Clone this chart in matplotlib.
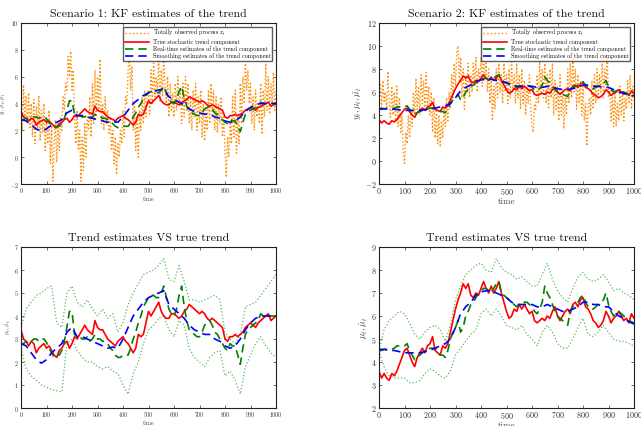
import numpy as np
import matplotlib
matplotlib.use("Agg")
import matplotlib.pyplot as plt

plt.rcParams['font.family'] = ['cmr10', 'DejaVu Serif']
plt.rcParams['mathtext.fontset'] = 'cm'
plt.rcParams['axes.unicode_minus'] = False
plt.rcParams['axes.formatter.use_mathtext'] = True

# ---------------- data ----------------
time5 = np.arange(0, 1001, 5)
time10 = np.arange(0, 1001, 10)
time20 = np.arange(0, 1001, 20)

# Scenario 1
obs1 = [3.5, 2.0, 5.4, 3.0, 4.6, 2.6, 4.8, 2.2, 4.0, 1.5,
        4.3, 1.0, 3.8, 2.0, 4.6, 1.2, 3.5, 1.8, 4.0, 0.5,
        3.0, 1.0, 3.5, -0.5, 2.5, -1.8, 1.0, 2.8, -0.4, 2.5,
        0.5, 3.0, 2.0, 4.5, 3.5, 5.5, 5.0, 7.5, 6.0, 7.9,
        5.0, 6.5, 3.0, 1.0, 3.5, 0.5, 2.0, -1.8, 1.5, -1.0,
        2.5, 0.0, 3.0, 2.0, 4.5, 1.5, 5.5, 2.5, 6.5, 3.0,
        6.0, 3.5, 7.3, 2.5, 4.0, 2.0, 4.5, 2.5, 3.5, 1.8,
        3.0, 0.5, 2.0, -0.5, 1.5, -1.3, 1.0, 0.0, 2.0, 1.0,
        3.5, 1.5, 4.5, 4.0, 6.5, 7.5, 5.0, 6.8, 2.0, 4.0,
        0.5, 3.0, 0.0, 3.5, 2.0, 4.5, 2.5, 5.0, 3.0, 4.5,
        5.0, 3.2, 6.5, 4.0, 7.0, 4.5, 6.0, 5.0, 7.3, 4.2,
        6.5, 4.5, 7.5, 5.0, 4.0, 6.0, 3.0, 5.5, 3.5, 4.8,
        3.0, 5.5, 3.5, 6.0, 4.0, 5.0, 2.5, 5.5, 3.0, 6.0,
        3.5, 5.5, 2.5, 4.5, 2.0, 5.0, 3.0, 5.5, 2.0, 4.5,
        2.5, 5.0, 1.5, 4.0, 1.2, 3.5, 2.0, 5.0, 2.5, 5.5,
        3.0, 5.0, 2.0, 4.5, 1.8, 4.0, 2.5, 4.5, 1.5, 3.0,
        0.5, -1.5, 1.5, 0.0, 2.5, 1.0, 4.5, 1.5, 5.0, 0.3,
        3.0, 1.0, 5.5, 2.5, 6.0, 4.0, 7.0, 5.0, 6.5, 4.0,
        5.5, 2.5, 4.5, 2.0, 5.0, 3.0, 4.0, 2.5, 5.5, 1.7,
        5.0, 3.0, 7.0, 3.5, 6.0, 3.2, 5.5, 4.0, 6.3, 3.5,
        5.0]
true1 = [3.4, 3.0, 2.9, 2.7, 2.9, 2.8, 2.4, 2.6, 2.7, 2.8,
         2.6, 2.7, 2.5, 2.3, 2.2, 2.5, 2.6, 2.8, 2.9, 2.6,
         2.8, 3.1, 3.0, 3.2, 3.4, 3.6, 3.4, 3.3, 3.2, 3.8,
         3.5, 3.4, 3.4, 3.2, 3.0, 2.9, 2.8, 2.7, 2.9, 3.0,
         3.1, 2.9, 2.8, 2.6, 2.4, 2.6, 3.2, 3.1, 3.2, 3.7,
         4.2, 4.0, 4.2, 4.4, 4.6, 4.2, 4.0, 3.9, 3.9, 4.1,
         4.1, 4.0, 3.9, 4.0, 4.2, 4.3, 4.5, 4.4, 4.3, 4.2,
         4.1, 4.2, 4.1, 3.9, 3.8, 3.9, 3.8, 3.7, 3.6, 3.5,
         3.0, 2.9, 3.1, 3.1, 3.2, 3.1, 3.2, 3.3, 3.5, 3.6,
         3.7, 3.6, 3.5, 3.7, 3.8, 3.9, 4.0, 4.1, 3.8, 3.9,
         4.0]
rt1 = [2.8, 2.8, 2.9, 2.8, 2.9, 3.0, 3.0, 2.9, 3.0, 3.0,
       2.85, 2.6, 2.4, 2.2, 2.3, 2.3, 2.5, 2.9, 3.5, 4.2,
       4.2, 3.2, 3.1, 3.1, 3.0, 3.0, 3.1, 2.9, 3.0, 3.2,
       3.0, 3.0, 2.9, 2.9, 2.8, 2.6, 2.5, 2.3, 2.2, 2.2,
       2.3, 2.3, 2.3, 2.6, 3.0, 3.3, 3.7, 4.0, 4.4, 4.6,
       4.8, 4.9, 4.9, 4.8, 4.8, 5.0, 5.3, 4.8, 4.3, 4.1,
       4.0, 4.3, 4.9, 5.3, 4.4, 3.8, 3.4, 3.3, 3.2, 3.1,
       3.1, 3.3, 3.6, 3.7, 3.8, 3.6, 3.3, 3.2, 3.0, 2.8,
       2.6, 2.5, 2.8, 2.7, 2.7, 2.3, 1.9, 2.6, 3.2, 3.4,
       3.5, 3.6, 3.7, 3.8, 4.1, 4.0, 4.0, 4.0, 4.0, 4.0,
       4.0]
sm1 = [2.8, 2.7, 2.4, 2.1, 1.95, 2.1, 2.4, 2.6, 2.8, 3.3,
       3.5, 3.1, 3.1, 3.0, 2.9, 2.8, 2.7, 2.6, 2.65, 2.6,
       3.0, 3.5, 4.0, 4.3, 4.6, 4.8, 4.9, 5.0, 5.1, 4.5,
       4.3, 4.1, 3.9, 3.6, 3.4, 3.3, 3.2, 3.2, 3.0, 2.9,
       2.7, 2.6, 2.7, 3.0, 3.4, 3.7, 3.9, 4.0, 4.0, 4.0,
       4.0]
up1 = [3.5, 4.3, 4.6, 4.9, 5.0, 5.2, 5.3, 3.7, 3.5, 5.0,
       5.3, 4.6, 4.4, 4.7, 4.3, 4.0, 4.3, 3.9, 4.1, 3.3,
       3.7, 4.5, 5.0, 5.4, 5.8, 5.9, 6.0, 6.2, 6.5, 5.6,
       5.5, 6.2, 5.5, 4.7, 4.7, 4.6, 4.7, 4.8, 4.9, 4.7,
       3.3, 3.0, 2.8, 3.2, 4.4, 4.5, 4.6, 4.9, 5.2, 5.5,
       5.8]
lo1 = [2.6, 1.7, 1.4, 1.2, 1.0, 0.9, 0.8, 0.75, 0.7, 2.8,
       3.0, 2.5, 2.2, 2.0, 2.0, 1.8, 1.7, 1.8, 1.6, 1.5,
       1.0, 0.6, 1.5, 2.0, 2.8, 3.4, 3.6, 3.9, 4.0, 3.4,
       3.1, 3.8, 3.6, 2.6, 2.2, 2.0, 1.8, 2.2, 2.4, 2.5,
       1.4, 1.6, 1.2, 0.6, 1.8, 2.3, 2.8, 3.1, 2.7, 2.4,
       2.2]

# Scenario 2
obs2 = [5.0, 6.8, 4.5, 7.0, 5.2, 6.0, 4.5, 7.8, 5.0, 3.8,
        6.5, 4.0, 6.0, 3.5, 6.5, 3.0, 5.5, 2.5, 4.0, 1.0,
        -0.2, 2.5, 1.5, 4.0, 2.0, 4.5, 3.0, 6.0, 4.0, 7.2,
        4.5, 6.5, 4.0, 7.5, 5.0, 7.0, 4.5, 7.7, 4.5, 6.5,
        4.0, 6.0, 2.5, 5.5, 2.0, 4.5, 1.5, 4.0, 1.2, 3.5,
        2.0, 4.5, 3.0, 5.5, 3.5, 6.0, 4.5, 7.5, 5.5, 8.5,
        6.5, 9.5, 10.0, 7.0, 9.0, 5.5, 8.0, 4.5, 7.5, 6.0,
        8.5, 5.5, 7.5, 6.0, 8.5, 6.5, 9.0, 6.0, 8.0, 7.0,
        9.0, 6.5, 9.5, 7.0, 8.5, 6.0, 8.0, 5.0, 7.0, 3.5,
        6.5, 4.5, 8.0, 5.5, 8.5, 6.0, 7.5, 5.0, 8.5, 6.0,
        7.5, 5.0, 8.0, 5.5, 8.8, 6.0, 7.5, 5.0, 8.5, 5.5,
        7.5, 4.5, 8.0, 5.0, 7.0, 4.0, 6.5, 5.0, 7.5, 4.5,
        3.0, 2.5, 5.0, 4.5, 7.5, 5.0, 8.8, 6.0, 8.0, 5.5,
        8.5, 5.0, 7.5, 4.5, 8.0, 5.5, 8.5, 4.0, 7.0, 4.5,
        6.5, 3.5, 7.5, 4.0, 6.0, 2.8, 5.5, 4.0, 8.0, 5.0,
        8.5, 5.5, 9.0, 6.0, 8.0, 4.5, 7.5, 5.0, 7.0, 4.0,
        6.5, 3.5, 5.0, 1.3, 4.5, 5.5, 4.0, 7.0, 4.5, 7.5,
        5.0, 8.0, 5.5, 7.5, 6.0, 8.5, 5.5, 8.0, 6.5, 9.0,
        5.5, 6.5, 3.5, 5.5, 3.0, 6.0, 3.0, 5.0, 3.5, 6.5,
        4.0, 6.0, 3.5, 5.5, 4.5, 7.0, 5.0, 7.5, 4.5, 6.5,
        5.5]
true2 = [3.6, 3.3, 3.5, 3.3, 3.2, 3.5, 3.4, 3.6, 3.9, 4.2,
         4.5, 4.6, 4.3, 4.0, 3.8, 4.2, 4.4, 4.6, 4.4, 4.7,
         4.8, 5.1, 4.5, 4.4, 4.3, 4.7, 4.6, 4.8, 5.3, 5.8,
         6.3, 6.7, 7.0, 7.4, 7.2, 7.4, 6.9, 6.8, 7.0, 6.9,
         7.2, 7.5, 7.2, 7.0, 7.3, 7.0, 7.2, 7.5, 7.0, 6.6,
         6.2, 5.9, 6.0, 6.3, 6.2, 6.5, 6.3, 6.5, 6.3, 6.1,
         6.2, 5.8, 5.7, 5.8, 5.9, 5.8, 6.0, 5.9, 6.2, 6.4,
         6.0, 5.8, 6.0, 6.2, 6.3, 6.1, 6.5, 6.6, 6.4, 6.7,
         6.8, 6.4, 6.3, 6.1, 5.8, 5.7, 5.5, 5.6, 5.8, 6.2,
         6.0, 5.7, 5.9, 6.0, 6.2, 6.0, 5.8, 5.9, 5.7, 6.1,
         5.9]
rt2 = [4.5, 4.5, 4.55, 4.55, 4.55, 4.55, 4.6, 4.7, 4.7, 4.7,
       4.7, 4.8, 4.5, 4.3, 4.1, 4.2, 4.3, 4.4, 4.5, 4.5,
       4.6, 4.6, 4.6, 4.5, 4.3, 4.3, 4.2, 4.5, 5.0, 5.3,
       5.5, 5.8, 5.3, 5.5, 6.0, 6.2, 6.5, 6.6, 6.8, 7.0,
       7.1, 7.2, 7.2, 7.1, 7.0, 7.2, 7.4, 7.5, 7.0, 6.9,
       6.8, 6.7, 6.6, 6.5, 6.4, 6.5, 6.5, 6.6, 6.6, 6.5,
       6.4, 6.2, 6.1, 6.3, 6.6, 7.3, 7.0, 6.8, 6.5, 6.2,
       6.0, 5.9, 5.8, 5.7, 5.6, 6.2, 6.4, 6.5, 6.6, 6.8,
       6.9, 6.6, 6.4, 6.3, 6.3, 6.4, 6.5, 6.6, 6.7, 7.0,
       6.5, 6.2, 6.0, 6.1, 6.2, 6.1, 6.0, 5.9, 5.8, 5.75,
       5.7]
sm2 = [4.55, 4.55, 4.5, 4.5, 4.45, 4.4, 4.4, 4.4, 4.4, 4.45,
       4.5, 4.6, 4.7, 4.8, 5.0, 5.5, 6.1, 6.4, 6.6, 6.9,
       7.05, 7.1, 7.1, 7.0, 6.9, 6.8, 6.6, 6.5, 6.5, 6.5,
       6.5, 6.4, 6.4, 6.5, 6.4, 6.3, 6.2, 6.2, 6.3, 6.4,
       6.6, 6.6, 6.5, 6.5, 6.4, 6.4, 6.2, 6.0, 5.9, 5.75,
       5.65]
up2 = [4.5, 5.4, 5.8, 6.0, 6.2, 6.1, 5.7, 5.2, 5.0, 5.3,
       5.5, 5.6, 5.4, 4.9, 5.6, 6.7, 7.3, 7.8, 8.0, 8.2,
       8.3, 8.0, 7.9, 8.5, 8.1, 7.9, 7.8, 7.6, 7.7, 7.5,
       7.3, 7.3, 7.8, 8.3, 7.6, 7.1, 6.8, 6.6, 7.2, 7.7,
       7.9, 7.6, 7.5, 7.6, 7.8, 7.5, 7.1, 7.2, 7.0, 6.9,
       6.7]
lo2 = [4.5, 3.8, 3.4, 3.3, 3.3, 3.3, 3.1, 3.1, 3.2, 3.5,
       3.7, 3.6, 3.4, 3.3, 3.6, 4.3, 4.6, 4.9, 5.2, 5.4,
       6.1, 6.3, 6.0, 6.3, 6.0, 5.6, 5.5, 5.4, 5.6, 5.2,
       5.0, 4.7, 5.3, 5.6, 5.3, 4.8, 4.6, 4.6, 5.0, 5.5,
       5.9, 5.2, 5.1, 5.3, 5.6, 5.3, 5.0, 4.9, 4.9, 4.8,
       4.7]

titles_top = ["Scenario 1: KF estimates of the trend", "Scenario 2: KF estimates of the trend"]
title_bottom = "Trend estimates VS true trend"
legend_labels = ["Totally observed process $x_t$", "True stochastic trend component",
                 "Real-time estimates of the trend component", "Smoothing estimates of the trend component"]

# ---------------- styles ----------------
C_OBS = '#FF8C00'
C_TRUE = '#FF0000'
C_RT = '#008000'
C_SM = '#0000FF'
C_BAND = '#5CB85C'

fig = plt.figure(figsize=(6.41, 4.26), dpi=100)

def style_axes(ax, xlim, ylim, yticks, tick_fs, label_fs, ylabel):
    ax.set_xlim(*xlim)
    ax.set_ylim(*ylim)
    ax.set_xticks(np.arange(0, 1001, 100))
    ax.set_yticks(yticks)
    ax.tick_params(direction='in', top=True, right=True, labelsize=tick_fs,
                   length=2.5, width=0.5, pad=1.5, colors='#333333', labelcolor='#333333')
    for s in ax.spines.values():
        s.set_linewidth(0.8)
        s.set_color('#222222')
    ax.set_xlabel('time', fontsize=label_fs, labelpad=0.5, color='#444444')
    ax.set_ylabel(ylabel, fontsize=label_fs, labelpad=1, color='#444444')

W = 255 / 641
H = 161 / 426
pos = {
    'tl': [21 / 641, 1 - 184 / 426, W, H],
    'tr': [379 / 641, 1 - 184 / 426, W, H],
    'bl': [21 / 641, 1 - 408 / 426, W, H],
    'br': [379 / 641, 1 - 408 / 426, W, H],
}

panels = [
    ('tl', 'top', obs1, true1, rt1, sm1, None, None, (-2, 10), np.arange(-2, 11, 2), 4.3, 4.3, titles_top[0], r'$y_t,\mu_t,\hat{\mu}_t$'),
    ('tr', 'top', obs2, true2, rt2, sm2, None, None, (-2, 12), np.arange(-2, 13, 2), 5.8, 6.5, titles_top[1], r'$y_t,\mu_t,\hat{\mu}_t$'),
    ('bl', 'bot', None, true1, rt1, sm1, up1, lo1, (0, 7), np.arange(0, 8, 1), 4.3, 4.3, title_bottom, r'$\mu_t,\hat{\mu}_t$'),
    ('br', 'bot', None, true2, rt2, sm2, up2, lo2, (2, 9), np.arange(2, 10, 1), 5.8, 6.5, title_bottom, r'$\mu_t,\hat{\mu}_t$'),
]

for key, kind, obs, tru, rt, sm, up, lo, ylim, yt, tfs, lfs, title, ylab in panels:
    ax = fig.add_axes(pos[key])
    handles = []
    if obs is not None:
        h0, = ax.plot(time5, obs, color=C_OBS, ls=':', lw=1.0)
        handles.append(h0)
    if up is not None:
        ax.plot(time20, up, color=C_BAND, ls=':', lw=0.9)
        ax.plot(time20, lo, color=C_BAND, ls=':', lw=0.9)
    h1, = ax.plot(time10, tru, color=C_TRUE, ls='-', lw=1.2)
    h2, = ax.plot(time10, rt, color=C_RT, ls=(0, (5, 3)), lw=1.2)
    h3, = ax.plot(time20, sm, color=C_SM, ls=(0, (5, 3)), lw=1.2)
    handles += [h1, h2, h3]
    style_axes(ax, (0, 1000), ylim, yt, tfs, lfs, ylab)
    ax.set_title(title, fontsize=8.6, pad=4, color='#111111')
    if kind == 'top':
        leg = ax.legend(handles, legend_labels, loc='upper right', fontsize=4.3,
                        frameon=True, fancybox=False, borderpad=0.3, labelspacing=0.15,
                        handlelength=4.0, handletextpad=0.6, borderaxespad=0.6)
        leg.get_frame().set_edgecolor('#333333')
        leg.get_frame().set_linewidth(1.0)

fig.savefig('out.png', dpi=100)
